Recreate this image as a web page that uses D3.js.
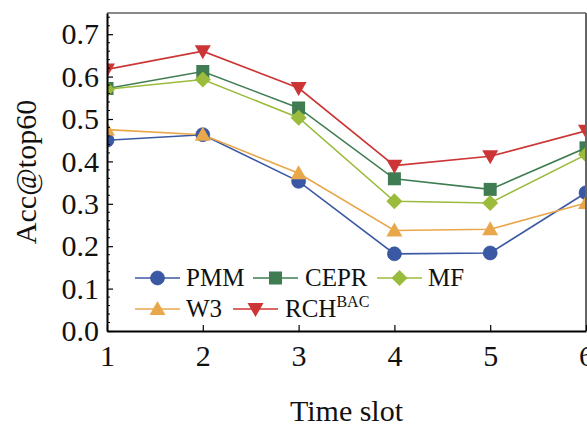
<!DOCTYPE html>
<html><head><meta charset="utf-8">
<script src="https://cdn.jsdelivr.net/npm/d3@7"></script>
<style>body{margin:0;background:#fff}svg{display:block}text{font-family:"Liberation Serif","Times New Roman",serif;fill:#111}</style>
</head><body><svg id="c" width="587" height="426"></svg>
<script>
const timeSlots = [1, 2, 3, 4, 5, 6];
const PMM  = [0.450, 0.463, 0.353, 0.182, 0.184, 0.326];
const CEPR = [0.572, 0.612, 0.526, 0.359, 0.334, 0.432];
const MF   = [0.570, 0.593, 0.503, 0.306, 0.302, 0.416];
const W3   = [0.475, 0.463, 0.372, 0.237, 0.240, 0.302];
const RCH  = [0.617, 0.660, 0.573, 0.390, 0.412, 0.472];
const yTicks = [0.0, 0.1, 0.2, 0.3, 0.4, 0.5, 0.6, 0.7];
const seriesDefs = [
  {name:"PMM", values:PMM, color:"#3a58a3", sym:"circle"},
  {name:"CEPR", values:CEPR, color:"#3f7c52", sym:"square"},
  {name:"MF", values:MF, color:"#9bbb3b", sym:"diamond"},
  {name:"W3", values:W3, color:"#e9a74c", sym:"tri"},
  {name:"RCH", sup:"BAC", values:RCH, color:"#cc3535", sym:"tridown"}
];

const svg = d3.select("#c");
const L=107, R=586, T=13, B=331;
const x = d3.scaleLinear().domain([1,6]).range([L,R]);
const y = d3.scaleLinear().domain([0,0.75]).range([B,T]);

function marker(g, sym, color){
  if(sym==="circle") g.append("circle").attr("r",7).attr("fill",color).attr("stroke","#2b4a8f").attr("stroke-width",0.6);
  else if(sym==="square") g.append("rect").attr("x",-6.5).attr("y",-6.5).attr("width",13).attr("height",13).attr("fill",color);
  else if(sym==="diamond") g.append("path").attr("d","M0,-8L8,0L0,8L-8,0Z").attr("fill",color);
  else if(sym==="tri") g.append("path").attr("d","M0,-8L8,6L-8,6Z").attr("fill",color);
  else g.append("path").attr("d","M0,8L8,-6L-8,-6Z").attr("fill",color);
}

svg.append("defs").append("clipPath").attr("id","clip").append("rect")
  .attr("x",L).attr("y",T).attr("width",R-L).attr("height",B-T);

const plot = svg.append("g").attr("clip-path","url(#clip)");
const line = d3.line().x((d,i)=>x(timeSlots[i])).y(d=>y(d));
seriesDefs.forEach(s=>{
  plot.append("path").attr("d",line(s.values)).attr("fill","none").attr("stroke",s.color).attr("stroke-width",1.6);
});
seriesDefs.forEach(s=>{
  s.values.forEach((v,i)=>{
    const g = plot.append("g").attr("transform",`translate(${x(timeSlots[i])},${y(v)})`);
    marker(g, s.sym, s.color);
  });
});

// frame
svg.append("line").attr("x1",L).attr("x2",R).attr("y1",T).attr("y2",T).attr("stroke","#888").attr("stroke-width",2);
svg.append("line").attr("x1",R).attr("x2",R).attr("y1",T).attr("y2",B).attr("stroke","#666").attr("stroke-width",2);

// y axis
const yAxis = d3.axisLeft(y).tickValues(yTicks).tickFormat(d3.format(".1f")).tickSizeInner(-6).tickSizeOuter(0).tickPadding(8);
const ya = svg.append("g").attr("transform",`translate(${L},0)`).call(yAxis);
const minor = d3.range(0,0.751,0.02).filter(v=>Math.abs(v*10-Math.round(v*10))>1e-6);
svg.append("g").selectAll("line").data(minor).join("line")
  .attr("x1",L).attr("x2",L+3).attr("y1",d=>y(d)).attr("y2",d=>y(d)).attr("stroke","#000").attr("stroke-width",1);
// x axis
const xAxis = d3.axisBottom(x).tickValues(timeSlots).tickFormat(d3.format("d")).tickSizeInner(-6).tickSizeOuter(0).tickPadding(14);
const xa = svg.append("g").attr("transform",`translate(0,${B})`).call(xAxis);
[ya,xa].forEach(a=>{
  a.select(".domain").attr("stroke","#000").attr("stroke-width",2);
  a.selectAll(".tick line").attr("stroke","#000").attr("stroke-width",1.2);
  a.selectAll("text").attr("font-size",30).attr("font-family","Liberation Serif").attr("fill","#111");
});
xa.selectAll("text").attr("dy","0.71em");

svg.append("text").attr("x",(L+R)/2).attr("y",421).attr("text-anchor","middle").attr("font-size",30).text("Time slot");
svg.append("text").attr("transform","translate(36,172) rotate(-90)").attr("text-anchor","middle").attr("font-size",30).text("Acc@top60");

// legend
const legPos = [
  {lx:135, ty:278, tx:186},
  {lx:253, ty:278, tx:305},
  {lx:377, ty:278, tx:428},
  {lx:135, ty:309, tx:186},
  {lx:233, ty:309, tx:285}
];
seriesDefs.forEach((s,i)=>{
  const p = legPos[i];
  const g = svg.append("g");
  g.append("line").attr("x1",p.lx).attr("x2",p.lx+45).attr("y1",p.ty).attr("y2",p.ty).attr("stroke",s.color).attr("stroke-width",1.6);
  const m = g.append("g").attr("transform",`translate(${p.lx+22.5},${p.ty})`);
  marker(m, s.sym, s.color);
  const t = g.append("text").attr("x",p.tx).attr("y",p.ty+8).attr("font-size",25).text(s.name);
  if(s.sup) t.append("tspan").attr("font-size",16).attr("dy",-10).text(s.sup);
});
</script></body></html>
